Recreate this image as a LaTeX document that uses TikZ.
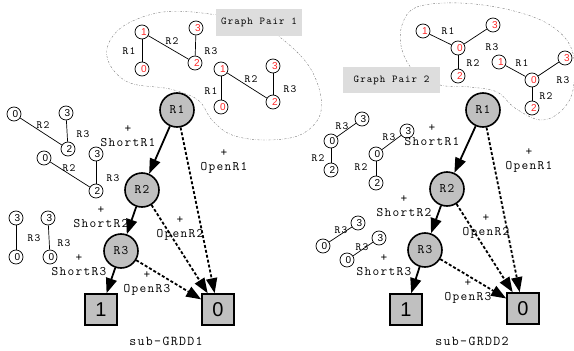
\documentclass[tikz,border=0pt]{standalone}
\usepackage{fontspec}
\setmainfont{Liberation Serif}
\newfontfamily\monof[LetterSpace=10]{Latin Modern Mono}
\newfontfamily\sansf{Liberation Sans}
\usetikzlibrary{arrows.meta}
\definecolor{nodegray}{RGB}{192,192,192}
\definecolor{boxgray}{RGB}{221,221,221}
\definecolor{digred}{RGB}{255,40,40}
\definecolor{cloudgray}{RGB}{120,120,120}
\begin{document}
\begin{tikzpicture}[x=1pt,y=-1pt,
 gn/.style={circle,draw,line width=0.7pt,minimum size=14pt,inner sep=0pt,font=\sansf\fontsize{10}{10}\selectfont},
 rednode/.style={gn,text=digred},
 gedge/.style={line width=0.7pt},
 elab/.style={font=\monof\fontsize{11}{11}\selectfont,inner sep=0pt},
 bignode/.style={circle,draw,line width=1.6pt,fill=nodegray,minimum size=34pt,inner sep=0pt,font=\monof\fontsize{13}{13}\selectfont},
 termnode/.style={rectangle,draw,line width=1.6pt,fill=nodegray,minimum width=32pt,minimum height=31pt,inner sep=0pt,font=\sansf\fontsize{20}{20}\selectfont},
 solidarr/.style={line width=1.8pt,-{Triangle[length=15pt,width=11pt]}},
 dasharr/.style={line width=1.8pt,dash pattern=on 3pt off 2pt,-{Triangle[length=15pt,width=11pt]}},
 opl/.style={align=center,font=\monof\fontsize{13}{14}\selectfont,inner sep=0pt},
 cloudline/.style={draw=cloudgray,line width=0.4pt,dash pattern=on 2pt off 1.5pt on 0.4pt off 1.5pt},
 gpbox/.style={fill=boxgray,inner sep=0pt,font=\monof\fontsize{10.5}{10.5}\selectfont},
 captext/.style={font=\monof\fontsize{13.5}{13.5}\selectfont,inner sep=0pt}
]
\useasboundingbox (0,0) rectangle (574,351);
% ---------- clouds ----------
\draw[cloudline] plot[smooth cycle,tension=0.6] coordinates {(163,12) (210,14) (260,25) (300,55) (318,85) (320,115) (300,135) (265,140) (232,135) (212,120) (198,100) (170,89) (130,83) (110,65) (108,45) (125,25)};
\draw[cloudline] plot[smooth cycle,tension=0.6] coordinates {(402,25) (417,7) (460,3) (510,10) (550,25) (572,50) (573,90) (560,112) (540,120) (515,108) (497,92) (470,87) (440,85) (415,72) (402,50)};
\node[gpbox,minimum width=86pt,minimum height=27pt] (gp1) at (259,22.5) {Graph Pair 1};
\node[gpbox,minimum width=97pt,minimum height=26pt] (gp2) at (391.5,80) {Graph Pair 2};
% ---------- left small graphs ----------
\node[rednode] (a1) at (142,32) {\hspace*{4pt}1};
\node[rednode] (a3) at (196,28) {\hspace*{4pt}3};
\node[rednode] (a0) at (142,69) {\hspace*{4pt}0};
\node[rednode] (a2) at (195,63) {\hspace*{4pt}2};
\draw[gedge] (a1) -- (a0); \draw[gedge] (a1) -- (a2); \draw[gedge] (a3) -- (a2);
\node[elab] (la1) at (129,51) {R1};
\node[elab] (la2) at (172,41) {R2};
\node[elab] (la3) at (211,51) {R3};
\node[rednode] (b1) at (221,69) {\hspace*{4pt}1};
\node[rednode] (b3) at (273,66) {\hspace*{4pt}3};
\node[rednode] (b0) at (221,107) {\hspace*{4pt}0};
\node[rednode] (b2) at (273,102) {\hspace*{4pt}2};
\draw[gedge] (b1) -- (b0); \draw[gedge] (b1) -- (b2); \draw[gedge] (b3) -- (b2);
\node[elab] (lb1) at (211,91) {R1};
\node[elab] (lb2) at (251,79) {R2};
\node[elab] (lb3) at (290,89) {R3};
\node[gn] (c0) at (14,114) {\hspace*{3pt}0};
\node[gn] (c3) at (66,113) {\hspace*{3pt}3};
\node[gn] (c2) at (68,149) {\hspace*{3pt}2};
\draw[gedge] (c0) -- (c2); \draw[gedge] (c3) -- (c2);
\node[elab] (lc2) at (43,125) {R2};
\node[elab] (lc3) at (83,134) {R3};
\node[gn] (d0) at (44,158) {\hspace*{3pt}0};
\node[gn] (d3) at (96,154) {\hspace*{3pt}3};
\node[gn] (d2) at (96,191) {\hspace*{3pt}2};
\draw[gedge] (d0) -- (d2); \draw[gedge] (d3) -- (d2);
\node[elab] (ld2) at (69,168) {R2};
\node[elab] (ld3) at (113,178) {R3};
\node[gn] (e3) at (16,218) {\hspace*{3pt}3};
\node[gn] (e0) at (16,257) {\hspace*{3pt}0};
\draw[gedge] (e3) -- (e0);
\node[elab] (le3) at (34,238) {R3};
\node[gn] (f3) at (48,218) {\hspace*{3pt}3};
\node[gn] (f0) at (50,257) {\hspace*{3pt}0};
\draw[gedge] (f3) -- (f0);
\node[elab] (lf3) at (64,243) {R3};
% ---------- left GRDD ----------
\node[bignode] (L1) at (177,110) {R1};
\node[bignode] (L2) at (142,190) {R2};
\node[bignode] (L3) at (121,251) {R3};
\node[termnode] (Lt1) at (101,309.5) {1};
\node[termnode] (Lt0) at (218,309.5) {0};
\draw[solidarr] (L1) -- (L2);
\draw[solidarr] (L2) -- (L3);
\draw[solidarr] (L3) -- (Lt1);
\draw[dasharr] (L1) -- (Lt0);
\draw[dasharr] (L2) -- (Lt0);
\draw[dasharr] (L3) -- (Lt0);
\node[opl] (Ls1) at (128,136) {+\\ShortR1};
\node[opl] (Lo1) at (224,162) {+\\OpenR1};
\node[opl] (Ls2) at (101,217) {+\\ShortR2};
\node[opl] (Lo2) at (180,228.5) {+\\OpenR2};
\node[opl] (Ls3) at (79,265) {+\\ShortR3};
\node[opl] (Lo3) at (147,284) {+\\OpenR3};
\node[captext] (Lcap) at (166,341) {sub-GRDD1};
% ---------- right small graphs ----------
\node[rednode] (g1) at (423,31) {\hspace*{4pt}1};
\node[rednode] (g3) at (493,25) {\hspace*{4pt}3};
\node[rednode] (g0) at (458,48) {\hspace*{4pt}0};
\node[rednode] (g2) at (458,76) {\hspace*{4pt}2};
\draw[gedge] (g1) -- (g0); \draw[gedge] (g3) -- (g0); \draw[gedge] (g0) -- (g2);
\node[elab] (lg1) at (448,31) {R1};
\node[elab] (lg3) at (492,47) {R3};
\node[elab] (lg2) at (473,63) {R2};
\node[rednode] (h1) at (499,62) {\hspace*{4pt}1};
\node[rednode] (h3) at (565,58) {\hspace*{4pt}3};
\node[rednode] (h0) at (532,80) {\hspace*{4pt}0};
\node[rednode] (h2) at (532,108) {\hspace*{4pt}2};
\draw[gedge] (h1) -- (h0); \draw[gedge] (h3) -- (h0); \draw[gedge] (h0) -- (h2);
\node[elab] (lh1) at (522,63) {R1};
\node[elab] (lh3) at (563,80) {R3};
\node[elab] (lh2) at (546,96) {R2};
\node[gn] (i3) at (362,119) {\hspace*{3pt}3};
\node[gn] (i0) at (331,141) {\hspace*{3pt}0};
\node[gn] (i2) at (331,170) {\hspace*{3pt}2};
\draw[gedge] (i3) -- (i0); \draw[gedge] (i0) -- (i2);
\node[elab] (li3) at (342,126) {R3};
\node[elab] (li2) at (318,158) {R2};
\node[gn] (j3) at (407,131) {\hspace*{3pt}3};
\node[gn] (j0) at (376,154) {\hspace*{3pt}0};
\node[gn] (j2) at (376,183) {\hspace*{3pt}2};
\draw[gedge] (j3) -- (j0); \draw[gedge] (j0) -- (j2);
\node[elab] (lj3) at (389,137) {R3};
\node[elab] (lj2) at (361,167) {R2};
\node[gn] (k3) at (358,223) {\hspace*{3pt}3};
\node[gn] (k0) at (323,246) {\hspace*{3pt}0};
\draw[gedge] (k3) -- (k0);
\node[elab] (lk3) at (341,230) {R3};
\node[gn] (m3) at (379,238) {\hspace*{3pt}3};
\node[gn] (m0) at (347,260) {\hspace*{3pt}0};
\draw[gedge] (m3) -- (m0);
\node[elab] (lm3) at (362,247) {R3};
% ---------- right GRDD ----------
\node[bignode] (Q1) at (483,110) {R1};
\node[bignode] (Q2) at (447,189) {R2};
\node[bignode] (Q3) at (425,250) {R3};
\node[termnode] (Qt1) at (406,309.5) {1};
\node[termnode] (Qt0) at (523,308.5) {0};
\draw[solidarr] (Q1) -- (Q2);
\draw[solidarr] (Q2) -- (Q3);
\draw[solidarr] (Q3) -- (Qt1);
\draw[dasharr] (Q1) -- (Qt0);
\draw[dasharr] (Q2) -- (Qt0);
\draw[dasharr] (Q3) -- (Qt0);
\node[opl] (Qs1) at (432,135) {+\\ShortR1};
\node[opl] (Qo1) at (529,161) {+\\OpenR1};
\node[opl] (Qs2) at (404,206) {+\\ShortR2};
\node[opl] (Qo2) at (486,227) {+\\OpenR2};
\node[opl] (Qs3) at (384,265.5) {+\\ShortR3};
\node[opl] (Qo3) at (468,291.5) {+\\OpenR3};
\node[captext] (Qcap) at (472,341) {sub-GRDD2};
\end{tikzpicture}
\end{document}
